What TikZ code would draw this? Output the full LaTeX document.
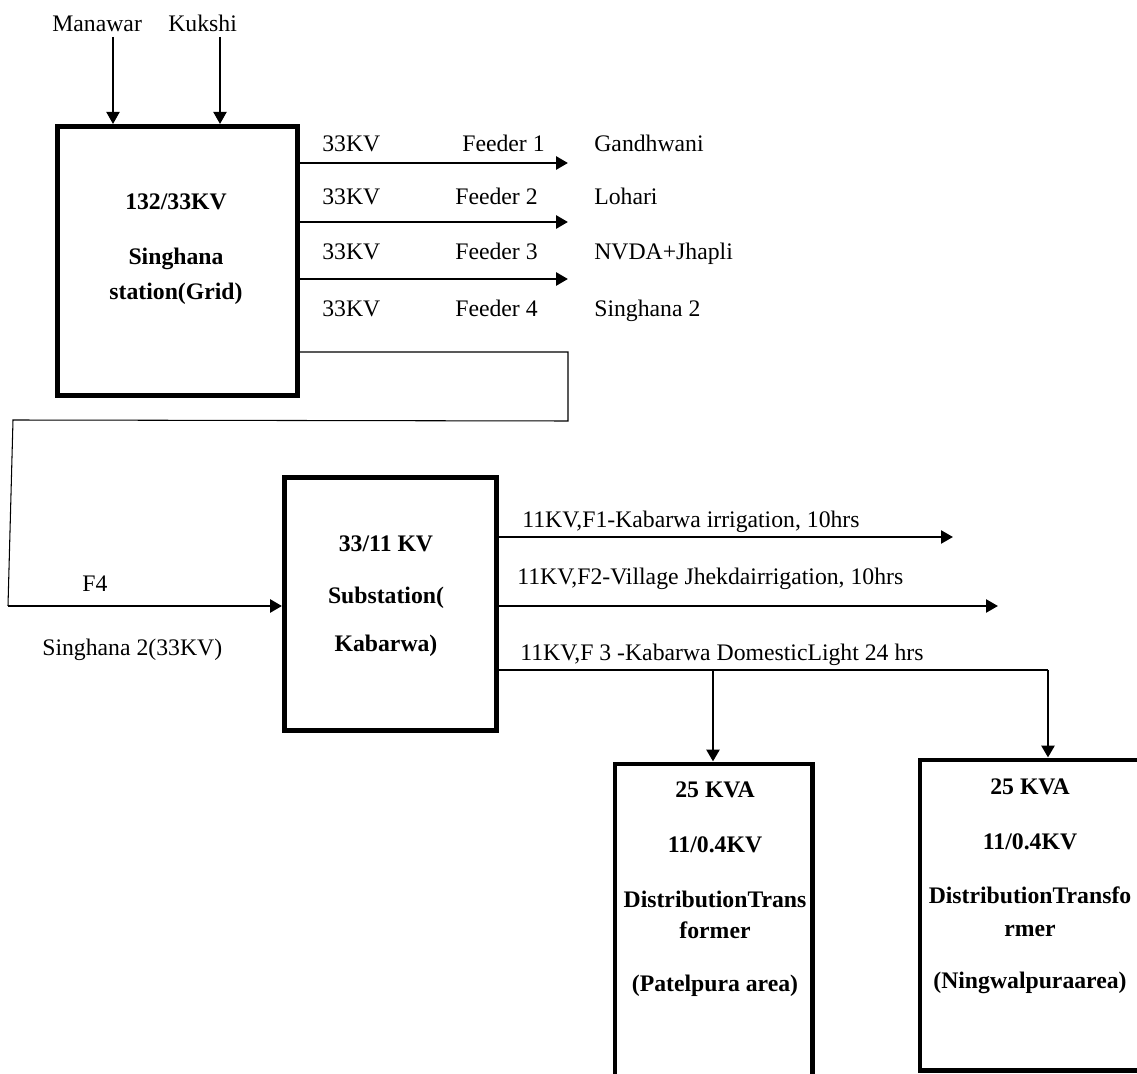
\documentclass[tikz,border=0pt]{standalone}
\usepackage{fontspec}
\setmainfont{Liberation Serif}
\usetikzlibrary{arrows.meta}
\tikzset{poste/.style={draw,line width=2.8pt,anchor=north west,inner sep=0pt},titre/.style={align=center,inner sep=0pt,font=\fontsize{13.5}{18}\selectfont\bfseries},note/.style={anchor=base west,inner sep=0pt,font=\fontsize{13.5}{18}\selectfont},flux/.style={-{Triangle[length=2.4mm,width=2.6mm]},line width=1.6pt},fil/.style={line width=.6pt}}

\begin{document}
\begin{tikzpicture}[x=.02cm,y=-.02cm]
\path[use as bounding box,clip] (0,0) rectangle (1137,1074);
% stations
\node[poste,minimum width=4.8cm,minimum height=5.38cm] (grid) at (55,124) {};
\node[poste,minimum width=4.25cm,minimum height=5.06cm] (sub) at (282,475) {};
\node[poste,minimum width=3.95cm,minimum height=7cm] (dt1) at (612.5,761.5) {};
\node[poste,minimum width=4.45cm,minimum height=6.22cm] (dt2) at (917.5,757.5) {};
\node[titre] (gridtxt) at (176,249) {132/33KV\\[13.3pt]Singhana\\[1.9pt]station(Grid)};
\node[titre] (subtxt) at (386,596) {33/11 KV\\[11.5pt]Substation(\\[9.3pt]Kabarwa)};
\node[titre] (dt1txt) at (715,889) {25 KVA\\[13.3pt]11/0.4KV\\[13.3pt]DistributionTrans\\[-.4pt]former\\[12.2pt](Patelpura area)};
\node[titre] (dt2txt) at (1030,886) {25 KVA\\[13.3pt]11/0.4KV\\[12.7pt]DistributionTransfo\\[.8pt]rmer\\[11.6pt](Ningwalpuraarea)};
% incoming 132KV
\node[note] (manawar) at (52,32) {Manawar};
\node[note] (kukshi) at (168,32) {Kukshi};
\coordinate (inM) at (113,37);
\coordinate (inK) at (220,37);
\draw[flux,line width=1.1pt] (inM) -- (grid.north -| inM);
\draw[flux,line width=1.1pt] (inK) -- (grid.north -| inK);
% 33KV feeders
\foreach \y/\x/\nm [count=\i] in {152/462/Gandhwani,205/455/Lohari,260/455/NVDA+Jhapli,317/455/Singhana 2}{
  \node[note] (kv\i) at (322,\y) {33KV};
  \node[note] (fd\i) at (\x,\y) {Feeder \i};
  \node[note] (dest\i) at (594,\y) {\nm};}
\foreach \y [count=\i] in {163,222,279} \coordinate (f\i) at (568,\y);
\foreach \i in {1,2,3} \draw[flux] (grid.east |- f\i) -- (f\i);
% feeder 4 to Kabarwa
\coordinate (l1) at (568,352);
\coordinate (l2) at (568,421);
\coordinate (l3) at (13,420);
\coordinate (l4) at (8,606);
\draw[fil] (grid.east |- l1) -- (l1) -- (l2) -- (l3) -- (l4);
\draw[flux] (l4) -- (sub.west |- l4);
\node[note] (f4) at (82,592) {F4};
\node[note] (sg2) at (42,656) {Singhana 2(33KV)};
% 11KV feeders
\coordinate (o1) at (953,537);
\coordinate (o2) at (998,606);
\coordinate (o3) at (1048,670);
\coordinate (tap) at (713,670);
\draw[flux,line width=1.4pt] (sub.east |- o1) -- (o1);
\draw[flux,line width=1.4pt] (sub.east |- o2) -- (o2);
\draw[fil] (sub.east |- o3) -- (o3);
\draw[flux] (tap) -- (dt1.north -| tap);
\draw[flux] (o3) -- (dt2.north -| o3);
\node[note] (kab1) at (522,528) {11KV,F1-Kabarwa irrigation, 10hrs};
\node[note] (kab2) at (517,585) {11KV,F2-Village Jhekdairrigation, 10hrs};
\node[note] (kab3) at (520,661) {11KV,F\hspace{.25em}3\hspace{.25em}-Kabarwa DomesticLight 24 hrs};
\end{tikzpicture}
\end{document}
